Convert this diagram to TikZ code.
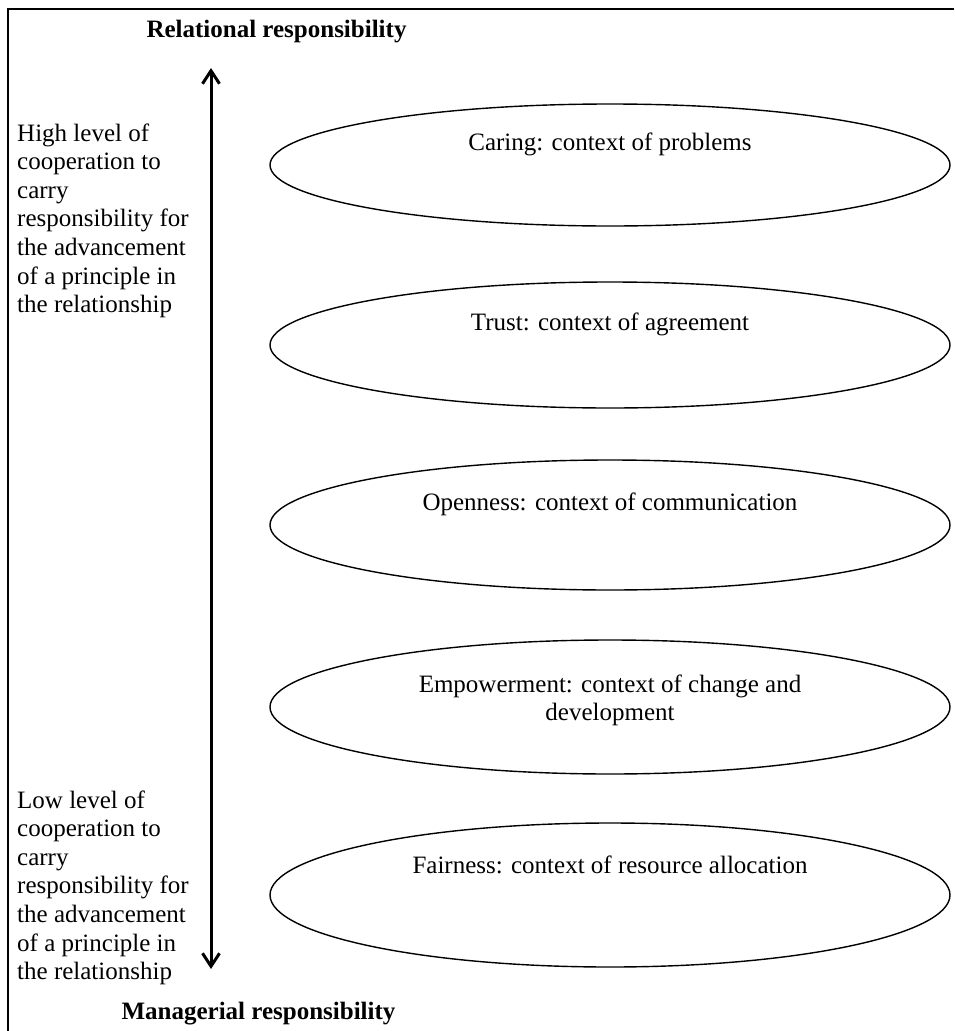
\documentclass[tikz,border=0pt]{standalone}
\usepackage{fontspec}
\setmainfont{Liberation Serif}
\usetikzlibrary{shapes.geometric,arrows.meta}
\begin{document}
\begin{tikzpicture}[x=1pt,y=-1pt,
  oval/.style={draw,ellipse,line width=1.4pt,minimum width=680pt,inner sep=0pt},
  ovaltext/.style={anchor=base,align=center,inner sep=0pt,font=\fontsize{25}{28}\selectfont},
  sidetext/.style={anchor=base west,align=left,inner sep=0pt,font=\fontsize{25}{28.6}\selectfont},
  titletext/.style={anchor=base,inner sep=0pt,font=\fontsize{25}{30}\selectfont\bfseries},
  frameline/.style={line width=1.5pt},
  axis/.style={line width=3pt,{Straight Barb[length=13pt,width=17pt]}-{Straight Barb[length=13pt,width=17pt]}}]
\useasboundingbox (0,0) rectangle (954,1031);
% frame
\coordinate (ftr) at (954,9);
\coordinate (ftl) at (8,9);
\coordinate (fbl) at (8,1031);
\draw[frameline] (ftr) -- (ftl) -- (fbl);
% ellipses
\node[oval,minimum height=122pt] (e1) at (610,165) {};
\node[oval,minimum height=126pt] (e2) at (610,345) {};
\node[oval,minimum height=130pt] (e3) at (610,525) {};
\node[oval,minimum height=134pt] (e4) at (610,707) {};
\node[oval,minimum height=144pt] (e5) at (610,895) {};
% ellipse texts (base anchor = baseline of last line)
\node[ovaltext] (t1) at (610,150) {Caring: context of problems};
\node[ovaltext] (t2) at (610,330) {Trust: context of agreement};
\node[ovaltext] (t3) at (610,510) {Openness: context of communication};
\node[ovaltext] (t4) at (610,720) {Empowerment: context of change and\\development};
\node[ovaltext] (t5) at (610,873) {Fairness: context of resource allocation};
% side texts (base anchor = baseline of last line)
\node[sidetext] (hi) at (17,312.6) {High level of\\cooperation to\\carry\\responsibility for\\the advancement\\of a principle in\\the relationship};
\node[sidetext] (lo) at (17,979.6) {Low level of\\cooperation to\\carry\\responsibility for\\the advancement\\of a principle in\\the relationship};
% titles
\node[titletext] (rel) at (276.5,37) {Relational responsibility};
\node[titletext] (man) at (258.5,1019) {Managerial responsibility};
% axis arrow
\coordinate (atop) at (211,68);
\coordinate (abot) at (211,969);
\draw[axis] (atop) -- (abot);
\end{tikzpicture}
\end{document}
